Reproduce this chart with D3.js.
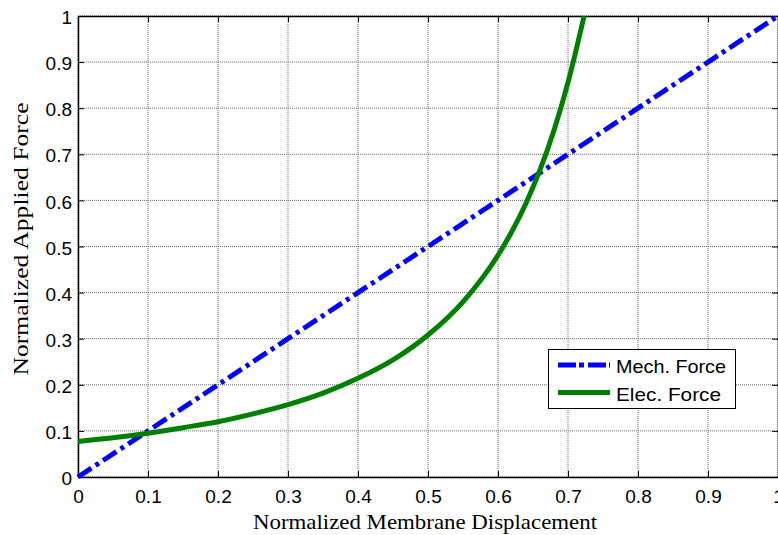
<!DOCTYPE html>
<html><head><meta charset="utf-8">
<script src="https://cdn.jsdelivr.net/npm/d3@7"></script>
<style>body{margin:0;background:#fff;overflow:hidden}svg{display:block}</style>
</head><body>
<svg id="c" width="778" height="535"></svg>
<script>
const xTicks = [0,0.1,0.2,0.3,0.4,0.5,0.6,0.7,0.8,0.9,1];
const yTicks = [0,0.1,0.2,0.3,0.4,0.5,0.6,0.7,0.8,0.9,1];
const xTickLabels = ["0","0.1","0.2","0.3","0.4","0.5","0.6","0.7","0.8","0.9","1"];
const yTickLabels = ["0","0.1","0.2","0.3","0.4","0.5","0.6","0.7","0.8","0.9","1"];
const mechX = [0,0.1,0.2,0.3,0.4,0.5,0.6,0.7,0.8,0.9,1];
const mechY = [0,0.1,0.2,0.3,0.4,0.5,0.6,0.7,0.8,0.9,1];
const elecX = [0,0.05,0.1,0.15,0.2,0.25,0.3,0.35,0.4,0.45,0.5,0.55,0.6,0.62,0.64,0.66,0.68,0.7,0.71,0.723];
const elecY = [0.077,0.085,0.095,0.107,0.120,0.137,0.157,0.182,0.214,0.254,0.308,0.380,0.481,0.533,0.594,0.666,0.752,0.856,0.916,1.0];
const seriesNames = ["Mech. Force","Elec. Force"];

const L=78,R=778,T=16,B=477;
const svg=d3.select("#c");
const x=d3.scaleLinear().domain([0,1]).range([L,R]);
const y=d3.scaleLinear().domain([0,1]).range([B,T]);

// grid
const g=svg.append("g");
g.selectAll(".gx").data(xTicks).join("line").attr("x1",d=>x(d)).attr("x2",d=>x(d)).attr("y1",T).attr("y2",B)
 .attr("stroke","#666").attr("stroke-width",1).attr("stroke-dasharray","1,1");
g.selectAll(".gy").data(yTicks).join("line").attr("y1",d=>y(d)).attr("y2",d=>y(d)).attr("x1",L).attr("x2",R)
 .attr("stroke","#666").attr("stroke-width",1).attr("stroke-dasharray","1,1");

// axes
const font="Arial, 'Liberation Sans', sans-serif";
const xb=svg.append("g").attr("transform",`translate(0,${B})`).call(d3.axisBottom(x).tickValues(xTicks).tickFormat((d,i)=>xTickLabels[i]).tickSizeInner(-6).tickSizeOuter(0).tickPadding(13));
const xt=svg.append("g").attr("transform",`translate(0,${T})`).call(d3.axisTop(x).tickValues(xTicks).tickFormat("").tickSizeInner(-6).tickSizeOuter(0));
const yl=svg.append("g").attr("transform",`translate(${L},0)`).call(d3.axisLeft(y).tickValues(yTicks).tickFormat((d,i)=>yTickLabels[i]).tickSizeInner(-6).tickSizeOuter(0).tickPadding(6));
const yr=svg.append("g").attr("transform",`translate(${R},0)`).call(d3.axisRight(y).tickValues(yTicks).tickFormat("").tickSizeInner(-6).tickSizeOuter(0));
[xb,xt,yl,yr].forEach(a=>{a.selectAll("path").attr("stroke","#000").attr("stroke-width",1.5);a.selectAll("line").attr("stroke","#000");
 a.selectAll("text").attr("font-family",font).attr("font-size",19).attr("fill","#000");});
yl.selectAll("text").attr("dy","0.4em");

// lines
const line=d3.line().x(d=>x(d[0])).y(d=>y(d[1]));
svg.append("path").datum(mechX.map((v,i)=>[v,mechY[i]])).attr("d",line).attr("fill","none")
 .attr("stroke","#0000ff").attr("stroke-width",5).attr("stroke-dasharray","16,5,4,5");
svg.append("path").datum(elecX.map((v,i)=>[v,elecY[i]])).attr("d",d3.line().curve(d3.curveMonotoneX).x(d=>x(d[0])).y(d=>y(d[1]))).attr("fill","none")
 .attr("stroke","#008000").attr("stroke-width",5);

// axis titles
const serif="'Liberation Serif','Times New Roman',serif";
svg.append("text").attr("x",425).attr("y",529).attr("text-anchor","middle")
 .attr("font-family",serif).attr("font-size",21).attr("textLength",344).attr("lengthAdjust","spacingAndGlyphs").text("Normalized Membrane Displacement");
svg.append("text").attr("transform",`translate(28,239) rotate(-90)`).attr("text-anchor","middle")
 .attr("font-family",serif).attr("font-size",21).attr("textLength",273).attr("lengthAdjust","spacingAndGlyphs").text("Normalized Applied Force");

// legend
const lg=svg.append("g");
lg.append("rect").attr("x",548.5).attr("y",349.5).attr("width",187).attr("height",59).attr("fill","#fff").attr("stroke","#000").attr("stroke-width",1);
const styles=[{c:"#0000ff",da:"18,3,5,4"},{c:"#008000",da:null}];
seriesNames.forEach((n,i)=>{
  const yy=365+i*27.5;
  const ln=lg.append("line").attr("x1",558).attr("x2",610).attr("y1",yy).attr("y2",yy).attr("stroke",styles[i].c).attr("stroke-width",5);
  if(styles[i].da) ln.attr("stroke-dasharray",styles[i].da);
  lg.append("text").attr("x",616).attr("y",yy+8).attr("font-family",font).attr("font-size",19)
    .attr("textLength",i===0?110:105).attr("lengthAdjust","spacingAndGlyphs").text(n);
});
</script>
</body></html>
